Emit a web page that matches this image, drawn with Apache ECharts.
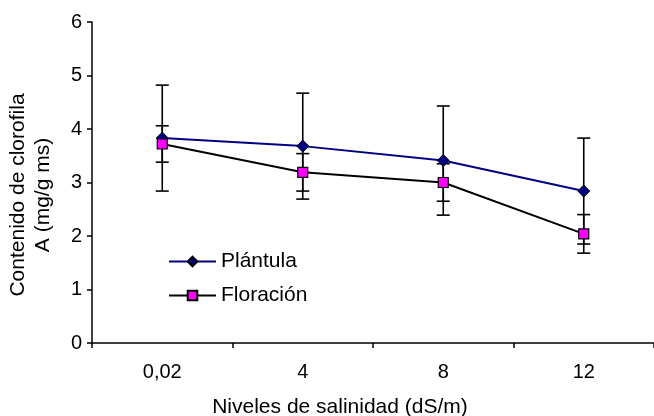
<!DOCTYPE html>
<html style="height: 100%">
<head>
<meta charset="utf-8">
<script src="https://cdn.jsdelivr.net/npm/echarts@6/dist/echarts.min.js"></script>
</head>
<body style="height: 100%; margin: 0; background: #fff">
<div id="container" style="width: 654px; height: 416px"></div>
<script type="text/javascript">
var niveles = ['0,02', '4', '8', '12'];
var plantula = [3.83, 3.68, 3.41, 2.84];
var plantulaErr = [0.99, 0.99, 1.02, 0.99];
var floracion = [3.72, 3.19, 3.00, 2.04];
var floracionErr = [0.34, 0.35, 0.35, 0.36];
var yTicks = [0, 1, 2, 3, 4, 5, 6];

var font = 'Liberation Sans, Arial, sans-serif';
var myChart = echarts.init(document.getElementById('container'));

function errData(vals, errs) {
    return vals.map(function (v, i) { return [i, v, errs[i]]; });
}

// vertical error bar with caps
function renderError(params, api) {
    var i = api.value(0), v = api.value(1), e = api.value(2);
    var hi = api.coord([i, v + e]);
    var lo = api.coord([i, v - e]);
    var hw = 6.5;
    var st = { stroke: '#000', lineWidth: 1.6 };
    return {
        type: 'group',
        children: [
            { type: 'line', shape: { x1: hi[0], y1: hi[1], x2: lo[0], y2: lo[1] }, style: st },
            { type: 'line', shape: { x1: hi[0] - hw, y1: hi[1], x2: hi[0] + hw, y2: hi[1] }, style: st },
            { type: 'line', shape: { x1: lo[0] - hw, y1: lo[1], x2: lo[0] + hw, y2: lo[1] }, style: st }
        ]
    };
}

var option = {
    animation: false,
    backgroundColor: '#fff',
    grid: { left: 92, right: -2, top: 22, bottom: 73 },
    legend: {
        orient: 'vertical',
        left: 163,
        top: 246,
        itemWidth: 47,
        itemHeight: 12,
        itemGap: 13,
        textStyle: { fontFamily: font, fontSize: 21, color: '#000' },
        data: ['Plántula', 'Floración']
    },
    xAxis: {
        type: 'category',
        data: niveles,
        boundaryGap: true,
        axisLine: { lineStyle: { color: '#000', width: 1.5 } },
        axisTick: { show: true, length: 5, lineStyle: { color: '#000', width: 1.5 } },
        axisLabel: { margin: 19, color: '#000', fontFamily: font, fontSize: 20 },
        splitLine: { show: false }
    },
    yAxis: {
        type: 'value',
        min: yTicks[0],
        max: yTicks[yTicks.length - 1],
        interval: 1,
        axisLine: { show: true, lineStyle: { color: '#000', width: 1.5 } },
        axisTick: { show: true, length: 5, lineStyle: { color: '#000', width: 1.5 } },
        axisLabel: { margin: 10, color: '#000', fontFamily: font, fontSize: 20 },
        splitLine: { show: false }
    },
    graphic: [
        {
            type: 'text',
            x: 31,
            y: 195,
            rotation: Math.PI / 2,
            style: {
                text: 'Contenido de clorofila\nA (mg/g ms)',
                fill: '#000',
                font: '21px ' + font,
                align: 'center',
                verticalAlign: 'middle',
                lineHeight: 25
            }
        },
        {
            type: 'text',
            x: 340,
            y: 407,
            style: {
                text: 'Niveles de salinidad (dS/m)',
                fill: '#000',
                font: '21px ' + font,
                align: 'center',
                verticalAlign: 'middle'
            }
        }
    ],
    series: [
        {
            type: 'custom',
            name: 'errP',
            z: 1,
            renderItem: renderError,
            data: errData(plantula, plantulaErr)
        },
        {
            type: 'custom',
            name: 'errF',
            z: 1,
            renderItem: renderError,
            data: errData(floracion, floracionErr)
        },
        {
            name: 'Plántula',
            type: 'line',
            z: 3,
            data: plantula,
            symbol: 'diamond',
            symbolSize: 12,
            lineStyle: { color: '#000080', width: 2 },
            itemStyle: { color: '#000080', borderColor: '#000', borderWidth: 1 }
        },
        {
            name: 'Floración',
            type: 'line',
            z: 4,
            data: floracion,
            symbol: 'rect',
            symbolSize: 10,
            lineStyle: { color: '#000', width: 2 },
            itemStyle: { color: '#ff00ff', borderColor: '#000', borderWidth: 1.2 }
        }
    ]
};
myChart.setOption(option);
</script>
</body>
</html>
